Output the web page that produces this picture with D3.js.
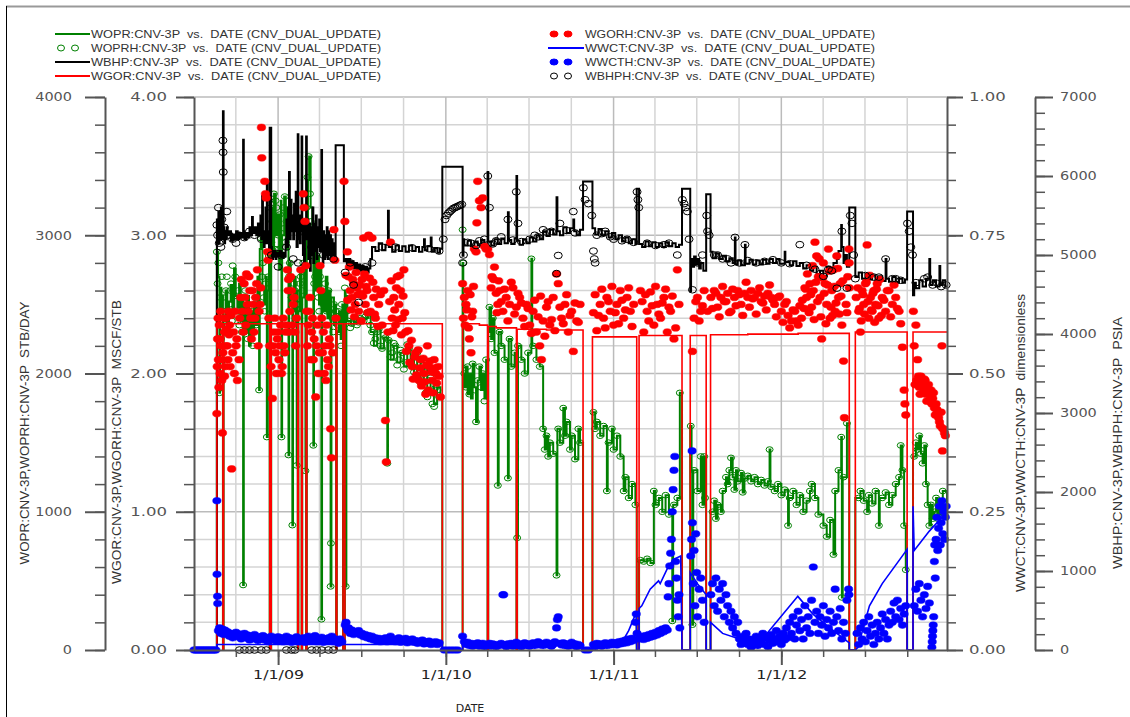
<!DOCTYPE html>
<html>
<head>
<meta charset="utf-8">
<script src="https://cdnjs.cloudflare.com/ajax/libs/d3/7.8.5/d3.min.js"></script>
<style>
  body { margin: 0; background: #fff; }
  svg { display: block; }
  .legend text { font-family: "Liberation Sans", Arial, sans-serif; font-size: 11px; fill: #333; white-space: pre; }
  .title { font-family: "Liberation Sans Narrow", "Liberation Sans", sans-serif; font-size: 12px; fill: #333; white-space: pre; }
</style>
</head>
<body>
<svg id="chart" width="1130" height="717"></svg>
<script>
// time is kept as decimal years
var woprLine = [[2008.5,0],[2008.636,2880],[2008.643,2700],[2008.651,1860],[2008.655,2620],[2008.663,2450],[2008.668,2560],[2008.672,0],[2008.676,2380],[2008.688,2600],[2008.698,2300],[2008.708,2520],[2008.718,2640],[2008.728,2420],[2008.738,2760],[2008.748,2560],[2008.758,2480],[2008.768,2650],[2008.778,2380],[2008.788,2550],[2008.792,470],[2008.796,2500],[2008.808,2300],[2008.817,2560],[2008.827,2200],[2008.837,2450],[2008.847,2280],[2008.857,2500],[2008.867,2350],[2008.877,2700],[2008.887,1880],[2008.891,2900],[2008.897,2980],[2008.907,2620],[2008.917,2500],[2008.927,2700],[2008.933,1540],[2008.937,2600],[2008.946,2850],[2008.950,0],[2008.959,3200],[2008.966,2900],[2008.976,3300],[2008.986,3000],[2008.996,3150],[2009.006,2750],[2009.016,3250],[2009.020,1540],[2009.024,3000],[2009.036,3280],[2009.046,2900],[2009.056,3200],[2009.062,1410],[2009.066,2800],[2009.075,2500],[2009.085,903],[2009.089,2450],[2009.095,2700],[2009.105,2350],[2009.111,1335],[2009.114,2600],[2009.117,0],[2009.121,2450],[2009.13,2750],[2009.140,0],[2009.144,2550],[2009.155,2900],[2009.163,1296],[2009.167,0],[2009.171,3100],[2009.178,3400],[2009.185,3570],[2009.194,3200],[2009.204,2900],[2009.210,1480],[2009.214,3000],[2009.224,2600],[2009.234,2850],[2009.244,2500],[2009.254,2750],[2009.258,222],[2009.262,2600],[2009.274,2450],[2009.284,2700],[2009.294,2400],[2009.304,2600],[2009.313,460],[2009.318,2550],[2009.333,2350],[2009.340,2500],[2009.346,0],[2009.350,2300],[2009.363,2450],[2009.373,2250],[2009.383,2500],[2009.387,0],[2009.398,2600],[2009.403,460],[2009.407,2560],[2009.413,2380],[2009.433,2360],[2009.452,2400],[2009.472,2370],[2009.492,2390],[2009.512,2400],[2009.532,2420],[2009.552,2300],[2009.571,2200],[2009.591,2320],[2009.611,2180],[2009.631,2260],[2009.651,1350],[2009.655,2240],[2009.671,2100],[2009.690,2200],[2009.710,2080],[2009.730,2150],[2009.750,2050],[2009.770,2200],[2009.790,2100],[2009.810,2000],[2009.829,2120],[2009.849,1950],[2009.869,2040],[2009.889,1850],[2009.909,1950],[2009.929,1780],[2009.948,1900],[2009.968,1820],[2009.979,0],
  [2010.100,2800],[2010.104,2000],[2010.11,1900],[2010.12,2050],[2010.13,1850],[2010.14,2000],[2010.15,1820],[2010.16,2070],[2010.17,1900],[2010.18,1650],[2010.19,1950],[2010.2,2050],[2010.21,1880],[2010.22,2000],[2010.23,1820],[2010.24,2100],[2010.249,0],[2010.253,2300],[2010.26,2480],[2010.27,2250],[2010.28,2400],[2010.29,2150],[2010.31,1190],[2010.315,2300],[2010.33,2200],[2010.35,2100],[2010.37,1243],[2010.375,2250],[2010.39,2050],[2010.41,2150],[2010.421,0],[2010.425,811],[2010.43,2200],[2010.45,2100],[2010.47,2000],[2010.49,2150],[2010.51,2830],[2010.515,2200],[2010.54,2100],[2010.56,2050],[2010.58,1600],[2010.59,1450],[2010.6,1550],[2010.61,1400],[2010.62,1500],[2010.64,1420],[2010.66,540],[2010.665,1600],[2010.68,1500],[2010.7,1750],[2010.71,1550],[2010.72,1650],[2010.74,1450],[2010.75,1550],[2010.77,1380],[2010.79,1600],[2010.8,1500],[2010.818,0],[2010.874,1720],[2010.89,1600],[2010.9,1650],[2010.92,1550],[2010.94,1620],[2010.96,1150],[2010.965,1500],[2010.99,1600],[2011.0,1450],[2011.02,1550],[2011.04,1400],[2011.06,1150],[2011.07,1250],[2011.09,1100],[2011.11,1200],[2011.13,1050],[2011.138,0],[2011.152,650],[2011.18,640],[2011.2,660],[2011.22,630],[2011.24,1150],[2011.25,1050],[2011.27,1100],[2011.29,1000],[2011.31,1120],[2011.33,980],[2011.35,210],[2011.355,1050],[2011.38,1100],[2011.395,1860],[2011.408,0],[2011.457,1620],[2011.465,1300],[2011.47,183],[2011.475,1300],[2011.5,1150],[2011.52,1400],[2011.53,1050],[2011.54,1400],[2011.552,0],[2011.578,1000],[2011.6,1080],[2011.61,950],[2011.62,1050],[2011.64,1000],[2011.65,1150],[2011.67,1250],[2011.68,1200],[2011.69,1300],[2011.7,1390],[2011.71,1250],[2011.72,1160],[2011.73,1300],[2011.74,1220],[2011.76,1280],[2011.77,1140],[2011.78,1240],[2011.8,1260],[2011.82,1220],[2011.84,1250],[2011.86,1200],[2011.88,1230],[2011.9,1190],[2011.92,1220],[2011.93,1450],[2011.935,1180],[2011.96,1150],[2011.98,1200],[2012.0,1120],[2012.02,1160],[2012.04,900],[2012.045,1100],[2012.07,1150],[2012.09,1050],[2012.11,1120],[2012.13,1000],[2012.15,1080],[2012.17,1150],[2012.18,1200],[2012.2,1100],[2012.22,980],[2012.25,900],[2012.27,820],[2012.29,940],[2012.31,690],[2012.32,1150],[2012.34,1300],[2012.356,1540],[2012.36,380],[2012.365,1250],[2012.39,1640],[2012.404,0],[2012.440,1100],[2012.47,1150],[2012.49,1080],[2012.51,1000],[2012.52,1120],[2012.54,1060],[2012.56,1150],[2012.58,900],[2012.585,1100],[2012.62,1140],[2012.64,1050],[2012.66,1120],[2012.68,1200],[2012.7,1250],[2012.71,1480],[2012.72,1300],[2012.73,900],[2012.74,580],[2012.748,0],[2012.783,1400],[2012.8,1500],[2012.81,1450],[2012.82,1550],[2012.83,1420],[2012.84,1350],[2012.85,1480],[2012.86,1200],[2012.87,1050],[2012.88,900],[2012.89,1050],[2012.9,950],[2012.91,1000],[2012.92,1100],[2012.93,950],[2012.94,1050],[2012.95,1000],[2012.96,1150],[2012.985,980]];

var woprHist = [[2008.636,2880],[2008.64,2650],[2008.645,2800],[2008.651,1860],[2008.655,2550],[2008.66,2250],[2008.665,2700],[2008.67,2095],[2008.68,2450],[2008.69,2600],[2008.7,2350],[2008.71,2500],[2008.72,2650],[2008.73,2780],[2008.74,2560],[2008.75,2420],[2008.76,2600],[2008.77,2350],[2008.78,2500],[2008.792,470],[2008.80,2300],[2008.81,2550],[2008.82,2250],[2008.84,2450],[2008.85,2200],[2008.86,2500],[2008.87,2350],[2008.887,1880],[2008.897,2980],[2008.905,2700],[2008.915,2550],[2008.925,2650],[2008.933,1540],[2008.945,2850],[2008.955,3200],[2008.965,3100],[2008.975,3300],[2008.985,3250],[2008.995,3050],[2009.005,2900],[2009.02,1540],[2009.03,3200],[2009.04,3280],[2009.05,3100],[2009.062,1410],[2009.07,2800],[2009.085,903],[2009.095,2650],[2009.105,2400],[2009.111,1335],[2009.125,2500],[2009.135,2700],[2009.145,2600],[2009.163,1296],[2009.175,3420],[2009.182,3570],[2009.19,3300],[2009.2,3000],[2009.21,1480],[2009.22,2700],[2009.23,2850],[2009.24,2550],[2009.25,2700],[2009.258,222],[2009.27,2500],[2009.28,2650],[2009.29,2450],[2009.3,2600],[2009.313,460],[2009.315,772],[2009.323,2400],[2009.333,2500],[2009.355,2350],[2009.36,2450],[2009.37,2300],[2009.38,2500],[2009.398,2620],[2009.403,460],[2009.41,2450],[2009.42,2380],[2009.44,2360],[2009.46,2400],[2009.48,2370],[2009.5,2390],[2009.52,2410],[2009.54,2420],[2009.56,2300],[2009.58,2250],[2009.6,2320],[2009.62,2180],[2009.64,2260],[2009.651,1350],[2009.66,2240],[2009.68,2150],[2009.7,2200],[2009.72,2100],[2009.74,2150],[2009.76,2080],[2009.78,2180],[2009.8,2050],[2009.82,2120],[2009.84,1980],[2009.86,2040],[2009.88,1860],[2009.9,1950],[2009.92,1780],[2009.94,1900],[2009.96,1830],
  [2008.648,2400],[2008.675,2550],[2008.685,2300],[2008.695,2700],[2008.705,2450],[2008.715,2600],[2008.725,2380],[2008.745,2700],[2008.765,2450],[2008.785,2300],[2008.805,2600],[2008.825,2400],[2008.845,2300],[2008.865,2550],[2008.88,2650],[2008.91,2800],[2008.92,2450],[2008.94,2700],[2008.96,2950],[2008.97,3150],[2008.98,2900],[2008.99,3200],[2009.0,3000],[2009.01,3150],[2009.025,2850],[2009.035,3050],[2009.045,2950],[2009.055,3150],[2009.065,2700],[2009.08,2550],[2009.1,2600],[2009.115,2500],[2009.13,2650],[2009.15,2800],[2009.17,3200],[2009.195,3100],[2009.205,2850],[2009.215,2650],[2009.235,2750],[2009.245,2450],[2009.265,2550],[2009.285,2350],[2009.295,2550],[2009.305,2450],[2009.33,2300],[2009.345,2450],[2009.365,2400],[2009.375,2200],[2009.39,2400],[2009.43,2330],[2009.45,2380],[2009.47,2350],[2009.49,2400],[2009.51,2380],[2009.53,2440],[2009.55,2350],[2009.57,2220],[2009.59,2300],[2009.61,2200],[2009.63,2280],[2009.67,2120],[2009.69,2220],[2009.71,2060],[2009.73,2170],[2009.75,2030],[2009.77,2210],[2009.79,2080],[2009.81,2010],[2009.83,2150],[2009.85,1930],[2009.87,2060],[2009.89,1830],[2009.91,1970],[2009.93,1760],[2009.95,1880],
  [2010.1,3040],[2010.105,2800],[2010.11,2000],[2010.12,1900],[2010.13,2050],[2010.14,1850],[2010.15,1950],[2010.16,2070],[2010.17,1880],[2010.18,1650],[2010.19,1950],[2010.2,2050],[2010.21,1900],[2010.22,2000],[2010.23,1800],[2010.24,2100],[2010.26,2480],[2010.27,2250],[2010.28,2400],[2010.29,2150],[2010.31,1190],[2010.32,2300],[2010.33,2200],[2010.35,2100],[2010.37,1243],[2010.38,2250],[2010.39,2050],[2010.41,2150],[2010.425,811],[2010.43,2200],[2010.45,2100],[2010.47,2000],[2010.49,2150],[2010.51,2830],[2010.52,2200],[2010.54,2100],[2010.56,2050],[2010.58,1600],[2010.59,1450],[2010.6,1550],[2010.61,1400],[2010.62,1500],[2010.64,1420],[2010.66,540],[2010.67,1600],[2010.68,1500],[2010.7,1750],[2010.71,1550],[2010.72,1650],[2010.74,1450],[2010.75,1550],[2010.77,1380],[2010.79,1600],[2010.8,1500],[2010.88,1720],[2010.89,1600],[2010.9,1650],[2010.92,1550],[2010.94,1620],[2010.96,1150],[2010.97,1500],[2010.99,1600],[2011.0,1450],[2011.02,1550],[2011.04,1400],[2011.06,1150],[2011.07,1250],[2011.09,1100],[2011.11,1200],[2011.13,1050],[2011.16,650],[2011.18,640],[2011.2,660],[2011.22,630],[2011.24,1150],[2011.25,1050],[2011.27,1100],[2011.29,1000],[2011.31,1120],[2011.33,980],[2011.35,210],[2011.36,1050],[2011.38,1100],[2011.395,1860],[2011.46,1620],[2011.47,183],[2011.48,1300],[2011.5,1150],[2011.52,1400],[2011.53,1050],
  [2011.54,1400],[2011.545,1100],[2011.59,1000],[2011.6,1080],[2011.61,950],[2011.62,1050],[2011.64,1000],[2011.65,1150],[2011.67,1250],[2011.68,1200],[2011.69,1300],[2011.7,1390],[2011.71,1250],[2011.72,1160],[2011.73,1300],[2011.74,1220],[2011.76,1280],[2011.77,1140],[2011.78,1240],[2011.8,1260],[2011.82,1220],[2011.84,1250],[2011.86,1200],[2011.88,1230],[2011.9,1190],[2011.92,1220],[2011.93,1450],[2011.94,1180],[2011.96,1150],[2011.98,1200],[2012.0,1120],[2012.02,1160],[2012.04,900],[2012.05,1100],[2012.07,1150],[2012.09,1050],[2012.11,1120],[2012.13,1000],[2012.15,1080],[2012.17,1150],[2012.18,1200],[2012.2,1100],[2012.22,980],[2012.25,900],[2012.27,820],[2012.29,940],[2012.31,690],[2012.32,1150],[2012.34,1300],[2012.356,1540],[2012.36,380],[2012.37,1250],[2012.39,1640],[2012.46,1100],[2012.47,1150],[2012.49,1080],[2012.51,1000],[2012.52,1120],[2012.54,1060],[2012.56,1150],[2012.58,900],[2012.6,1100],[2012.62,1140],[2012.64,1050],[2012.66,1120],[2012.68,1200],[2012.7,1250],[2012.71,1480],[2012.72,1300],[2012.73,900],[2012.74,580],[2012.79,1400],[2012.8,1500],[2012.81,1450],[2012.82,1550],[2012.83,1420],[2012.84,1350],[2012.85,1480],[2012.86,1200],[2012.87,1050],[2012.88,900],[2012.89,1050],[2012.9,950],[2012.91,1000],[2012.92,1100],[2012.93,950],[2012.94,1050],[2012.95,1000],[2012.96,1150],[2012.97,980]];

var wbhpLine = [[2008.5,0],[2008.636,5450],[2008.64,5200],[2008.645,5550],[2008.648,5150],[2008.652,5500],[2008.656,5250],[2008.66,5600],[2008.664,5200],[2008.668,5400],[2008.672,6820],[2008.676,5350],[2008.68,5150],[2008.685,5300],[2008.69,5200],[2008.695,5350],[2008.70,5250],[2008.71,5300],[2008.72,5180],[2008.73,5260],[2008.74,5200],[2008.75,5300],[2008.76,5200],[2008.77,5280],[2008.78,5220],[2008.792,6460],[2008.796,5300],[2008.80,5200],[2008.81,5280],[2008.82,5220],[2008.83,5350],[2008.84,5250],[2008.845,5480],[2008.85,5280],[2008.86,5350],[2008.87,5250],[2008.88,5400],[2008.885,5250],[2008.895,5500],[2008.90,5200],[2008.905,5750],[2008.91,5300],[2008.915,5100],[2008.92,5250],[2008.925,5600],[2008.93,5150],[2008.933,5910],[2008.937,5150],[2008.942,5300],[2008.946,5050],[2008.950,6610],[2008.959,5100],[2008.963,4950],[2008.97,5050],[2008.975,4980],[2008.98,5050],[2008.985,4950],[2008.99,5030],[2009.0,4980],[2009.01,5050],[2009.02,4970],[2009.03,5030],[2009.04,4980],[2009.045,5200],[2009.05,5450],[2009.055,5100],[2009.06,5600],[2009.065,6050],[2009.07,5200],[2009.075,5700],[2009.08,5300],[2009.085,5500],[2009.09,5200],[2009.095,5650],[2009.10,5300],[2009.105,5800],[2009.11,5100],[2009.117,6530],[2009.121,5200],[2009.125,5500],[2009.13,5150],[2009.135,5400],[2009.140,6500],[2009.144,5300],[2009.148,5000],[2009.152,5400],[2009.155,4900],[2009.16,5250],[2009.167,6500],[2009.171,5200],[2009.175,5450],[2009.18,4950],[2009.185,5400],[2009.19,4800],[2009.195,5350],[2009.20,5000],[2009.205,5600],[2009.21,4900],[2009.215,5400],[2009.22,5050],[2009.225,5500],[2009.23,4950],[2009.235,5350],[2009.24,5100],[2009.245,5450],[2009.25,5050],[2009.258,6330],[2009.262,5200],[2009.266,4900],[2009.27,5300],[2009.275,4950],[2009.28,5250],[2009.285,5000],[2009.29,5350],[2009.295,4950],[2009.30,5300],[2009.305,5000],[2009.31,5250],[2009.315,4950],[2009.32,5200],[2009.325,5000],[2009.33,5150],[2009.335,4950],[2009.343,6390],[2009.392,4920],[2009.40,4950],[2009.41,4880],[2009.42,4950],[2009.43,4850],[2009.44,4920],[2009.45,4830],[2009.46,4900],[2009.47,4820],[2009.48,4880],[2009.49,4800],[2009.50,4860],[2009.51,4790],[2009.52,4850],[2009.53,4780],[2009.54,4830],[2009.55,4950],[2009.56,5100],[2009.58,5050],[2009.60,5150],[2009.62,5060],[2009.64,5130],[2009.655,5560],[2009.66,5100],[2009.68,5040],[2009.70,5120],[2009.72,5050],[2009.74,5110],[2009.76,5040],[2009.78,5120],[2009.80,5050],[2009.82,5100],[2009.84,5040],[2009.86,5100],[2009.87,5200],[2009.875,5060],[2009.89,5110],[2009.91,5220],[2009.915,5040],[2009.93,5090],[2009.95,5030],[2009.965,5080],[2009.979,6116],
  [2010.100,4990],[2010.105,5200],[2010.11,5120],[2010.13,5180],[2010.15,5110],[2010.17,5170],[2010.19,5120],[2010.21,5190],[2010.23,5130],[2010.249,6050],[2010.253,5170],[2010.27,5120],[2010.29,5200],[2010.31,5140],[2010.33,5210],[2010.35,5150],[2010.37,5540],[2010.375,5190],[2010.39,5140],[2010.41,5210],[2010.421,6000],[2010.425,5180],[2010.44,5130],[2010.46,5200],[2010.48,5150],[2010.50,5220],[2010.52,5170],[2010.54,5250],[2010.56,5200],[2010.58,5300],[2010.60,5240],[2010.62,5320],[2010.64,5260],[2010.66,5730],[2010.665,5300],[2010.68,5250],[2010.70,5350],[2010.72,5280],[2010.74,5340],[2010.76,5450],[2010.765,5300],[2010.78,5250],[2010.80,5320],[2010.818,5930],[2010.874,5340],[2010.89,5260],[2010.91,5330],[2010.93,5250],[2010.95,5300],[2010.97,5220],[2010.99,5280],[2011.01,5200],[2011.03,5250],[2011.05,5170],[2011.07,5220],[2011.09,5150],[2011.11,5200],[2011.13,5140],[2011.138,5840],[2011.152,5140],[2011.17,5100],[2011.19,5170],[2011.21,5110],[2011.23,5160],[2011.25,5100],[2011.27,5150],[2011.29,5100],[2011.31,5160],[2011.33,5110],[2011.35,5150],[2011.37,5100],[2011.39,5130],[2011.408,5840],[2011.457,4540],[2011.462,4950],[2011.47,4850],[2011.48,4980],[2011.49,4880],[2011.50,4950],[2011.51,4830],[2011.52,4900],[2011.535,4800],[2011.552,5770],[2011.578,5040],[2011.59,4960],[2011.61,5020],[2011.63,4950],[2011.65,4990],[2011.67,4920],[2011.69,4960],[2011.71,4900],[2011.723,5220],[2011.727,4880],[2011.74,4930],[2011.76,4870],[2011.783,5130],[2011.787,4890],[2011.81,4940],[2011.83,4880],[2011.85,4930],[2011.87,4880],[2011.89,4940],[2011.91,4890],[2011.93,4950],[2011.95,4900],[2011.97,4950],[2011.99,4890],[2012.02,5040],[2012.024,4910],[2012.05,4870],[2012.07,4920],[2012.09,4860],[2012.11,4900],[2012.13,4830],[2012.15,4870],[2012.17,4800],[2012.19,4850],[2012.21,4760],[2012.23,4800],[2012.25,4730],[2012.27,4850],[2012.29,4780],[2012.31,4900],[2012.33,4950],[2012.34,5050],[2012.356,5380],[2012.36,5100],[2012.37,4900],[2012.38,5000],[2012.39,4850],[2012.404,5600],[2012.440,4720],[2012.46,4780],[2012.48,4700],[2012.50,4760],[2012.52,4690],[2012.54,4740],[2012.56,4680],[2012.58,4730],[2012.60,4670],[2012.62,4950],[2012.625,4700],[2012.64,4660],[2012.66,4720],[2012.68,4650],[2012.70,4700],[2012.72,4650],[2012.735,4690],[2012.748,5550],[2012.783,4490],[2012.79,4650],[2012.80,4580],[2012.82,4680],[2012.84,4600],[2012.86,4700],[2012.88,4950],[2012.885,4620],[2012.90,4680],[2012.92,4600],[2012.94,4860],[2012.945,4620],[2012.96,4680],[2012.975,4600],[2012.985,4610]];

var wbhpHist = [[2008.77,0],[2008.8,0],[2008.83,0],[2008.86,0],[2008.9,0],[2008.93,0],[2009.05,0],[2009.08,0],[2009.1,0],[2009.2,0],[2009.23,0],[2009.26,0],[2009.3,0],[2009.33,0],
  [2008.636,5380],[2008.64,5250],[2008.645,5600],[2008.65,5150],[2008.655,5300],[2008.66,5100],[2008.665,5450],[2008.672,6450],[2008.673,6300],[2008.674,6050],[2008.68,5350],[2008.695,5550],[2008.71,5250],[2008.73,5200],[2008.75,5150],[2008.77,5250],[2008.80,5220],[2008.83,5300],[2008.86,5250],[2008.9,5200],[2008.96,5000],[2008.99,5020],[2009.0,4850],[2009.02,4990],[2009.05,5100],[2009.09,4950],[2009.12,4900],[2009.15,5300],[2009.2,5100],[2009.23,5250],[2009.27,5000],[2009.3,5150],[2009.33,4950],[2009.40,4780],[2009.43,4900],[2009.45,4620],[2009.48,4400],[2009.52,4850],[2009.56,4900],[2009.62,5100],[2009.7,5100],[2009.8,5090],[2009.9,5080],[2009.96,5050],
  [2009.985,5200],[2009.995,5450],[2010.005,5500],[2010.015,5530],[2010.025,5550],[2010.035,5570],[2010.045,5590],[2010.055,5600],[2010.065,5610],[2010.075,5620],[2010.085,5630],[2010.095,5640],
  [2010.1,4900],[2010.105,5000],[2010.15,5150],[2010.2,5180],[2010.25,6000],[2010.26,5600],[2010.3,5180],[2010.37,5450],[2010.4,5190],[2010.42,5800],[2010.43,5400],[2010.5,5200],[2010.55,5230],[2010.6,5290],[2010.66,4765],[2010.67,4994],[2010.68,5400],[2010.76,5550],[2010.77,5280],[2010.82,5850],[2010.83,5700],[2010.85,5650],[2010.87,5500],[2010.88,5050],[2010.885,4950],[2010.89,4900],[2010.9,5250],[2010.95,5300],[2011.0,5200],[2011.05,5180],[2011.14,5800],[2011.145,5700],[2011.15,5600],[2011.2,5150],[2011.3,5130],[2011.38,5000],[2011.41,5700],[2011.42,5650],[2011.43,5600],[2011.44,5550],[2011.45,5200],[2011.47,4560],[2011.5,4900],[2011.53,5000],[2011.555,5500],[2011.56,5300],[2011.57,5250],[2011.6,5000],[2011.65,4950],[2011.70,4900],[2011.724,5223],[2011.75,4900],[2011.783,5130],[2011.85,4900],[2011.9,4920],[2012.0,4900],[2012.11,5131],[2012.2,4820],[2012.25,4730],[2012.3,4800],[2012.33,4580],[2012.36,5300],[2012.39,4580],[2012.41,5500],[2012.42,5400],[2012.43,5000],[2012.44,4700],[2012.55,4720],[2012.62,4950],[2012.68,4700],[2012.75,5400],[2012.76,5300],[2012.77,5100],[2012.78,5000],[2012.8,4650],[2012.85,4700],[2012.9,4620],[2012.95,4600],[2012.98,4620],
  [2010.13,5160],[2010.18,5120],[2010.23,5200],[2010.28,5140],[2010.33,5230],[2010.45,5170],[2010.53,5250],[2010.58,5320],[2010.63,5300],[2010.72,5310],[2010.93,5270],[2010.98,5230],[2011.08,5200],[2011.12,5160],[2011.25,5120],[2011.33,5150],[2011.62,5000],[2011.68,4950],[2011.8,4930],[2011.95,4940],[2012.05,4890],[2012.15,4870],[2012.28,4820],[2012.5,4740],[2012.58,4720],[2012.66,4700],[2012.71,4680],[2012.87,4720],[2012.93,4640]];

var wgorLine = [[2008.5,0],[2008.636,2.36],[2008.672,0],[2008.676,2.36],[2008.950,0],[2008.959,2.36],[2009.117,0],[2009.121,2.36],[2009.140,0],[2009.144,2.36],[2009.167,0],[2009.171,2.36],[2009.346,0],[2009.350,2.36],[2009.387,0],[2009.398,2.36],[2009.979,0],[2010.100,2.36],[2010.20,2.35],[2010.249,0],[2010.253,2.34],[2010.30,2.33],[2010.421,0],[2010.425,2.32],[2010.60,2.315],[2010.818,0],[2010.874,2.265],[2011.138,0],[2011.152,2.275],[2011.408,0],[2011.457,2.275],[2011.552,0],[2011.578,2.28],[2011.8,2.285],[2012.1,2.29],[2012.404,0],[2012.440,2.30],[2012.748,0],[2012.783,2.30],[2012.985,2.30]];

var wgorHist = [[2008.636,1.71],[2008.64,2.25],[2008.645,2.1],[2008.65,2.35],[2008.655,2.0],[2008.66,2.2],[2008.665,1.95],[2008.669,1.57],[2008.672,2.15],[2008.68,2.3],[2008.685,2.05],[2008.69,2.4],[2008.698,2.2],[2008.705,2.45],[2008.712,2.35],[2008.724,1.31],[2008.73,2.15],[2008.74,2.0],[2008.75,2.2],[2008.758,1.95],[2008.768,2.1],[2008.778,2.55],[2008.788,2.45],[2008.798,2.65],[2008.808,2.35],[2008.817,2.5],[2008.827,2.7],[2008.837,2.4],[2008.847,2.6],[2008.857,2.3],[2008.867,2.55],[2008.877,2.75],[2008.887,2.45],[2008.897,2.62],[2008.901,3.78],[2008.903,3.56],[2008.921,3.39],[2008.925,3.3],[2008.929,3.27],[2008.937,2.88],[2008.94,2.82],[2008.945,2.4],[2008.95,2.2],[2008.958,2.05],[2008.966,1.82],[2008.975,2.3],[2008.985,2.15],[2008.995,2.25],[2009.005,2.1],[2009.015,2.35],[2009.025,2.05],[2009.035,2.2],[2009.045,2.3],[2009.055,2.75],[2009.062,2.68],[2009.07,2.45],[2009.08,2.6],[2009.09,2.5],[2009.1,2.3],[2009.11,2.4],[2009.135,2.75],[2009.15,3.3],[2009.155,3.2],[2009.16,3.1],[2009.165,2.78],[2009.17,2.45],[2009.18,2.35],[2009.19,2.55],[2009.2,2.3],[2009.21,2.1],[2009.224,1.83],[2009.23,2.2],[2009.24,2.0],[2009.25,2.78],[2009.255,2.6],[2009.265,2.15],[2009.275,2.0],[2009.285,1.95],[2009.295,2.1],[2009.305,2.25],[2009.313,1.6],[2009.318,1.39],[2009.325,2.15],[2009.333,3.04],[2009.338,2.82],[2009.345,2.4],[2009.393,3.39],[2009.398,3.1],[2009.413,2.88],[2009.42,2.7],[2009.43,2.6],[2009.44,2.55],[2009.45,2.65],[2009.46,2.5],[2009.47,2.62],[2009.48,2.45],[2009.49,2.58],[2009.5,2.68],[2009.51,2.98],[2009.52,2.5],[2009.53,2.6],[2009.54,3.0],[2009.55,2.45],[2009.56,2.98],[2009.57,2.55],[2009.58,2.4],[2009.6,2.5],[2009.62,2.35],[2009.63,2.6],[2009.64,1.66],[2009.645,1.36],[2009.655,2.3],[2009.67,2.95],[2009.68,2.4],[2009.69,2.55],[2009.7,2.35],[2009.71,2.7],[2009.72,2.5],[2009.73,2.6],[2009.74,2.4],[2009.75,2.75],[2009.76,2.3],[2009.78,2.2],[2009.8,2.05],[2009.82,2.15],[2009.84,1.95],[2009.85,2.1],[2009.87,2.0],[2009.88,1.85],[2009.89,2.2],[2009.9,2.05],[2009.92,1.95],[2009.93,2.1],[2009.94,2.0],[2009.955,2.05],[2009.968,1.83],
  [2008.638,2.05],[2008.643,2.4],[2008.648,1.9],[2008.653,2.25],[2008.658,2.45],[2008.663,2.1],[2008.676,2.4],[2008.682,1.98],[2008.688,2.2],[2008.694,2.32],[2008.702,2.1],[2008.708,2.28],[2008.715,2.05],[2008.72,2.42],[2008.735,2.3],[2008.745,2.45],[2008.755,2.25],[2008.772,2.4],[2008.782,2.68],[2008.793,2.3],[2008.803,2.55],[2008.812,2.72],[2008.822,2.45],[2008.832,2.6],[2008.842,2.25],[2008.852,2.5],[2008.862,2.4],[2008.872,2.65],[2008.882,2.2],[2008.892,2.5],[2008.97,2.2],[2008.98,2.4],[2008.99,2.0],[2009.0,2.3],[2009.01,2.2],[2009.02,2.0],[2009.03,2.4],[2009.04,2.15],[2009.05,2.35],[2009.06,2.6],[2009.065,2.3],[2009.075,2.7],[2009.085,2.35],[2009.095,2.55],[2009.105,2.2],[2009.175,2.2],[2009.185,2.45],[2009.195,2.1],[2009.205,2.4],[2009.215,2.25],[2009.235,2.35],[2009.245,2.15],[2009.26,2.4],[2009.27,2.3],[2009.28,2.2],[2009.29,2.35],[2009.3,2.05],[2009.31,2.2],
  [2009.405,2.71],[2009.415,2.53],[2009.425,2.77],[2009.435,2.46],[2009.445,2.68],[2009.455,2.41],[2009.465,2.73],[2009.475,2.57],[2009.485,2.64],[2009.495,2.38],[2009.505,2.56],[2009.515,2.72],[2009.525,2.63],[2009.535,2.44],[2009.545,2.69],[2009.565,2.66],[2009.575,2.43],[2009.585,2.61],[2009.595,2.34],[2009.61,2.57],[2009.665,2.52],[2009.675,2.67],[2009.685,2.31],[2009.695,2.46],[2009.705,2.62],[2009.715,2.39],[2009.725,2.71],[2009.735,2.28],[2009.745,2.56],[2009.755,2.44],[2009.765,2.16],[2009.775,2.31],[2009.785,2.08],[2009.795,2.24],[2009.805,1.96],[2009.815,2.12],[2009.825,1.99],[2009.835,2.17],[2009.845,2.04],[2009.855,1.91],[2009.865,2.11],[2009.875,1.94],[2009.885,2.06],[2009.895,1.88],[2009.905,2.09],[2009.915,2.01],[2009.925,1.86],[2009.935,2.04],[2009.945,1.93],[2009.96,1.98],
  [2010.1,2.65],[2010.105,2.4],[2010.11,2.55],[2010.115,2.35],[2010.12,2.5],[2010.13,2.6],[2010.14,2.25],[2010.15,2.15],[2010.16,2.45],[2010.17,2.9],[2010.18,2.88],[2010.185,3.09],[2010.19,3.39],[2010.2,3.25],[2010.21,3.2],[2010.22,3.27],[2010.23,2.92],[2010.24,2.9],[2010.25,2.9],[2010.26,2.86],[2010.275,2.7],[2010.285,2.68],[2010.3,2.58],[2010.31,2.5],[2010.32,2.6],[2010.34,2.45],[2010.36,2.55],[2010.38,2.5],[2010.40,2.62],[2010.42,2.48],[2010.44,2.55],[2010.46,2.4],[2010.48,2.5],[2010.5,2.35],[2010.52,2.45],[2010.54,2.3],[2010.56,2.2],[2010.57,2.1],[2010.58,2.38],[2010.6,2.48],[2010.62,2.35],[2010.64,2.55],[2010.66,2.72],[2010.67,2.65],[2010.69,2.4],[2010.71,2.5],[2010.73,2.3],[2010.75,2.45],[2010.76,2.16],[2010.78,2.38],[2010.8,2.5],[2010.88,2.44],[2010.9,2.31],[2010.92,2.5],[2010.94,2.4],[2010.96,2.55],[2010.98,2.45],[2011.0,2.35],[2011.02,2.5],[2011.04,2.6],[2011.06,2.4],[2011.08,2.55],[2011.1,2.45],[2011.12,2.5],[2011.16,2.6],[2011.18,2.3],[2011.2,2.45],[2011.22,2.59],[2011.24,2.35],[2011.26,2.5],[2011.28,2.4],[2011.3,2.55],[2011.32,2.3],[2011.34,2.45],[2011.36,2.25],[2011.38,2.75],[2011.39,2.5],[2011.47,2.16],[2011.48,2.4],[2011.5,2.55],[2011.52,2.45],[2011.54,2.6],
  [2010.125,2.46],[2010.135,2.33],[2010.145,2.57],[2010.155,2.41],[2010.165,2.63],[2010.27,2.62],[2010.29,2.77],[2010.305,2.44],[2010.315,2.67],[2010.33,2.52],[2010.35,2.61],[2010.37,2.38],[2010.39,2.66],[2010.41,2.43],[2010.43,2.58],[2010.45,2.51],[2010.47,2.34],[2010.49,2.47],[2010.51,2.29],[2010.53,2.53],[2010.55,2.41],[2010.565,2.56],[2010.59,2.27],[2010.61,2.52],[2010.63,2.39],[2010.65,2.31],[2010.68,2.48],[2010.7,2.36],[2010.72,2.57],[2010.74,2.42],[2010.77,2.51],[2010.79,2.37],[2010.89,2.57],[2010.91,2.42],[2010.93,2.61],[2010.95,2.33],[2010.97,2.52],[2010.99,2.63],[2011.01,2.44],[2011.03,2.36],[2011.05,2.53],[2011.07,2.46],[2011.09,2.62],[2011.11,2.34],[2011.17,2.52],[2011.19,2.57],[2011.21,2.38],[2011.23,2.49],[2011.25,2.63],[2011.27,2.43],[2011.29,2.51],[2011.31,2.61],[2011.33,2.48],[2011.35,2.56],[2011.37,2.33],[2011.49,2.52],[2011.51,2.38],[2011.53,2.49],
  [2011.56,2.45],[2011.58,2.55],[2011.6,2.6],[2011.62,2.48],[2011.64,2.55],[2011.66,2.52],[2011.68,2.58],[2011.7,2.45],[2011.72,2.55],[2011.74,2.6],[2011.76,2.5],[2011.78,2.58],[2011.8,2.55],[2011.82,2.6],[2011.84,2.55],[2011.86,2.58],[2011.88,2.52],[2011.9,2.56],[2011.92,2.58],[2011.94,2.55],[2011.96,2.5],[2011.98,2.55],[2012.0,2.45],[2012.02,2.5],[2012.04,2.42],[2012.06,2.38],[2012.08,2.45],[2012.1,2.35],[2012.12,2.4],[2012.14,2.62],[2012.15,2.55],[2012.17,2.65],[2012.18,2.48],[2012.19,2.6],[2012.2,2.95],[2012.21,2.85],[2012.22,2.7],[2012.23,2.55],[2012.24,2.25],[2012.25,2.8],[2012.26,2.65],[2012.27,2.5],[2012.28,2.9],[2012.29,2.4],[2012.3,2.6],[2012.31,2.75],[2012.32,2.45],[2012.33,2.85],[2012.34,2.55],[2012.35,2.65],[2012.36,2.35],[2012.37,2.09],[2012.375,1.68],[2012.385,2.5],[2012.395,2.7],[2012.402,2.9],[2012.403,2.8],[2012.404,2.62],[2012.445,2.55],[2012.46,2.45],[2012.47,2.3],[2012.48,2.6],[2012.49,2.5],[2012.5,2.65],[2012.51,2.93],[2012.52,2.4],[2012.53,2.55],[2012.54,2.45],[2012.55,2.6],[2012.56,2.5],[2012.57,2.65],[2012.58,2.4],[2012.6,2.55],[2012.62,2.45],[2012.64,2.6],[2012.66,2.5],[2012.68,2.55],[2012.7,2.45],[2012.72,2.19],[2012.73,1.88],[2012.735,1.78],[2012.74,1.7],[2012.785,2.45],[2012.79,2.2],[2012.8,2.35],[2012.805,1.95],[2012.81,2.1],[2012.82,1.9],[2012.83,1.98],[2012.84,1.92],[2012.85,1.96],[2012.86,1.85],[2012.87,1.9],[2012.88,1.8],[2012.89,1.88],[2012.9,1.82],[2012.91,1.75],[2012.92,1.78],[2012.93,1.7],[2012.94,1.65],[2012.95,1.72],[2012.955,2.2],[2012.958,1.44],[2012.96,1.6],[2012.97,1.57],
  [2011.59,2.47],[2011.61,2.58],[2011.63,2.41],[2011.65,2.63],[2011.67,2.52],[2011.69,2.44],[2011.71,2.61],[2011.73,2.49],[2011.75,2.57],[2011.77,2.42],[2011.79,2.66],[2011.81,2.48],[2011.83,2.54],[2011.85,2.43],[2011.87,2.62],[2011.89,2.51],[2011.91,2.46],[2011.93,2.64],[2011.95,2.53],[2011.97,2.41],[2011.99,2.56],[2012.01,2.37],[2012.03,2.52],[2012.05,2.33],[2012.07,2.46],[2012.09,2.38],[2012.11,2.49],[2012.125,2.53],[2012.135,2.47],[2012.145,2.61],[2012.155,2.72],[2012.165,2.44],[2012.175,2.57],[2012.185,2.78],[2012.195,2.39],[2012.205,2.66],[2012.215,2.52],[2012.225,2.83],[2012.235,2.41],[2012.245,2.69],[2012.255,2.58],[2012.265,2.36],[2012.275,2.64],[2012.285,2.74],[2012.295,2.48],[2012.305,2.42],[2012.315,2.63],[2012.325,2.51],[2012.335,2.76],[2012.345,2.43],[2012.355,2.56],[2012.365,2.67],[2012.39,2.44],[2012.455,2.62],[2012.465,2.47],[2012.475,2.38],[2012.485,2.57],[2012.495,2.43],[2012.505,2.66],[2012.515,2.52],[2012.525,2.71],[2012.535,2.46],[2012.545,2.58],[2012.555,2.37],[2012.565,2.61],[2012.575,2.49],[2012.585,2.68],[2012.595,2.42],[2012.61,2.53],[2012.63,2.6],[2012.65,2.41],[2012.67,2.64],[2012.69,2.47],[2012.71,2.36],[2012.795,1.92],[2012.815,1.98],[2012.825,1.85],[2012.835,1.93],[2012.845,1.87],[2012.855,1.95],[2012.865,1.8],[2012.875,1.92],[2012.885,1.84],[2012.895,1.78],[2012.905,1.86],[2012.915,1.7],[2012.925,1.74],[2012.935,1.68],[2012.945,1.62],[2012.965,1.6],[2012.975,1.55]];

var wwctLine = [[2008.5,0],[2008.636,0],[2008.636,0.01],[2009.979,0.01],[2009.979,0],[2010.1,0],[2010.1,0.01],[2010.818,0.01],[2010.818,0],[2010.874,0],[2010.874,0.01],[2011.046,0.012],[2011.09,0.035],[2011.135,0.068],[2011.138,0],[2011.152,0],[2011.152,0.075],[2011.168,0.08],[2011.218,0.11],[2011.268,0.125],[2011.278,0.12],[2011.328,0.152],[2011.358,0.164],[2011.40,0.17],[2011.408,0],[2011.457,0],[2011.457,0.14],[2011.50,0.12],[2011.552,0.10],[2011.552,0],[2011.578,0],[2011.578,0.05],[2011.65,0.03],[2011.75,0.02],[2011.887,0.02],[2012.098,0.097],[2012.188,0.065],[2012.288,0.04],[2012.404,0.013],[2012.404,0],[2012.440,0],[2012.455,0.005],[2012.524,0.08],[2012.60,0.12],[2012.748,0.182],[2012.748,0],[2012.783,0],[2012.783,0.26],[2012.79,0.18],[2012.88,0.215],[2012.985,0.25]];

var wwctHist = [[2008.5,0],[2008.51,0],[2008.52,0],[2008.53,0],[2008.54,0],[2008.55,0],[2008.56,0],[2008.57,0],[2008.58,0],[2008.59,0],[2008.6,0],[2008.61,0],[2008.62,0],[2008.63,0],
  [2008.636,0.27],[2008.637,0.137],[2008.64,0.097],[2008.641,0.084],
  [2008.645,0.035],[2008.652,0.04],[2008.66,0.03],[2008.668,0.038],[2008.676,0.028],[2008.684,0.036],[2008.692,0.03],[2008.70,0.033],[2008.71,0.025],[2008.72,0.03],[2008.73,0.022],[2008.74,0.028],[2008.75,0.032],[2008.76,0.024],[2008.77,0.029],[2008.78,0.02],[2008.79,0.026],[2008.80,0.03],[2008.81,0.022],[2008.82,0.027],[2008.83,0.018],[2008.84,0.025],[2008.85,0.02],[2008.86,0.028],[2008.87,0.022],[2008.88,0.017],[2008.89,0.024],[2008.90,0.02],[2008.91,0.026],[2008.92,0.018],[2008.93,0.023],[2008.94,0.015],[2008.95,0.02],[2008.96,0.025],[2008.97,0.018],[2008.98,0.022],[2008.99,0.016],[2009.0,0.024],
  [2009.01,0.018],[2009.02,0.022],[2009.03,0.015],[2009.04,0.02],[2009.05,0.025],[2009.06,0.017],[2009.07,0.022],[2009.08,0.014],[2009.09,0.02],[2009.10,0.018],[2009.11,0.024],[2009.12,0.015],[2009.13,0.02],[2009.14,0.017],[2009.15,0.022],[2009.16,0.014],[2009.17,0.019],[2009.18,0.025],[2009.19,0.016],[2009.20,0.021],[2009.21,0.018],[2009.22,0.026],[2009.23,0.015],[2009.24,0.02],[2009.25,0.017],[2009.26,0.023],[2009.27,0.014],[2009.28,0.02],[2009.29,0.016],[2009.30,0.022],[2009.31,0.018],[2009.32,0.025],[2009.33,0.015],[2009.34,0.02],[2009.35,0.017],[2009.36,0.012],[2009.37,0.02],[2009.38,0.015],
  [2009.40,0.045],[2009.405,0.05],[2009.41,0.04],[2009.415,0.035],[2009.42,0.04],[2009.43,0.03],[2009.44,0.036],[2009.45,0.028],[2009.46,0.033],[2009.47,0.03],[2009.48,0.035],[2009.49,0.027],[2009.50,0.03],[2009.51,0.024],[2009.52,0.028],[2009.53,0.022],[2009.54,0.026],[2009.55,0.02],[2009.56,0.025],[2009.57,0.018],[2009.58,0.022],[2009.59,0.016],[2009.60,0.021],[2009.61,0.015],[2009.62,0.02],[2009.63,0.017],[2009.64,0.022],[2009.65,0.015],[2009.66,0.019],[2009.67,0.025],[2009.68,0.016],[2009.69,0.02],[2009.70,0.015],[2009.71,0.018],[2009.72,0.022],[2009.73,0.014],[2009.74,0.019],[2009.75,0.016],[2009.76,0.021],[2009.77,0.013],[2009.78,0.018],[2009.79,0.015],[2009.80,0.02],[2009.81,0.014],[2009.82,0.017],[2009.83,0.012],[2009.84,0.016],[2009.85,0.013],[2009.86,0.018],[2009.87,0.011],[2009.88,0.015],[2009.89,0.012],[2009.90,0.016],[2009.91,0.01],[2009.92,0.014],[2009.93,0.011],[2009.94,0.015],[2009.95,0.01],[2009.96,0.013],
  [2009.99,0],[2010.01,0],[2010.03,0],[2010.05,0],[2010.07,0],
  [2010.10,0.025],[2010.11,0.015],[2010.12,0.01],[2010.13,0.014],[2010.14,0.008],[2010.15,0.012],[2010.16,0.007],[2010.17,0.011],[2010.18,0.009],[2010.19,0.013],[2010.20,0.007],[2010.21,0.01],[2010.22,0.012],[2010.23,0.006],[2010.24,0.01],[2010.25,0.008],[2010.26,0.012],[2010.27,0.007],[2010.28,0.011],[2010.29,0.009],[2010.30,0.006],[2010.31,0.01],[2010.32,0.008],[2010.33,0.012],[2010.34,0.1],[2010.345,0.1],[2010.35,0.009],[2010.36,0.006],[2010.37,0.011],[2010.38,0.008],[2010.39,0.012],[2010.40,0.007],[2010.41,0.01],[2010.42,0.014],[2010.43,0.008],[2010.44,0.011],[2010.45,0.006],[2010.46,0.01],[2010.47,0.013],[2010.48,0.008],[2010.49,0.011],[2010.50,0.007],[2010.51,0.01],[2010.52,0.013],[2010.53,0.008],[2010.54,0.011],[2010.55,0.015],[2010.56,0.009],[2010.57,0.012],[2010.58,0.008],[2010.59,0.011],[2010.60,0.014],[2010.61,0.009],[2010.62,0.012],[2010.63,0.007],[2010.64,0.01],[2010.65,0.015],[2010.66,0.04],[2010.665,0.055],[2010.67,0.06],[2010.68,0.012],[2010.69,0.009],[2010.70,0.013],[2010.71,0.008],[2010.72,0.011],[2010.73,0.007],[2010.74,0.01],[2010.75,0.014],[2010.76,0.008],[2010.77,0.011],[2010.78,0.006],[2010.79,0.01],[2010.80,0.008],
  [2010.83,0],[2010.85,0],
  [2010.88,0.01],[2010.89,0.006],[2010.90,0.012],[2010.91,0.008],[2010.92,0.011],[2010.93,0.007],[2010.94,0.01],[2010.95,0.013],[2010.96,0.008],[2010.97,0.012],[2010.98,0.009],[2010.99,0.014],[2011.00,0.01],[2011.01,0.013],[2011.02,0.009],[2011.03,0.015],[2011.04,0.011],[2011.05,0.016],[2011.06,0.012],[2011.07,0.018],[2011.08,0.013],[2011.09,0.02],[2011.10,0.015],[2011.11,0.021],[2011.12,0.017],[2011.13,0.05],[2011.135,0.065],[2011.14,0.03],[2011.16,0.02],[2011.17,0.025],[2011.18,0.019],[2011.19,0.026],[2011.20,0.021],[2011.21,0.028],[2011.22,0.023],[2011.23,0.03],[2011.24,0.025],[2011.25,0.032],[2011.26,0.027],[2011.27,0.035],[2011.28,0.03],[2011.29,0.038],[2011.30,0.033],[2011.31,0.04],[2011.32,0.036],
  [2011.325,0.096],[2011.33,0.12],[2011.335,0.152],[2011.34,0.175],[2011.345,0.2],[2011.35,0.25],[2011.355,0.29],[2011.36,0.325],[2011.365,0.35],[2011.37,0.16],[2011.375,0.13],[2011.38,0.09],[2011.385,0.06],[2011.39,0.1],[2011.395,0.04],
  [2011.46,0.17],[2011.465,0.2],[2011.468,0.36],[2011.47,0.23],[2011.475,0.12],[2011.48,0.18],[2011.485,0.08],[2011.49,0.21],[2011.495,0.14],[2011.50,0.06],[2011.51,0.11],[2011.52,0.13],[2011.53,0.09],[2011.54,0.05],
  [2011.58,0.1],[2011.59,0.12],[2011.60,0.08],[2011.61,0.13],[2011.62,0.07],[2011.63,0.11],[2011.64,0.09],[2011.65,0.12],[2011.66,0.06],[2011.67,0.1],[2011.68,0.08],[2011.69,0.05],[2011.70,0.07],[2011.71,0.04],[2011.72,0.06],[2011.73,0.03],[2011.74,0.05],
  [2011.75,0.02],[2011.76,0.01],[2011.77,0.025],[2011.78,0.015],[2011.79,0.03],[2011.80,0.01],[2011.81,0.02],[2011.82,0.005],[2011.83,0.018],[2011.84,0.012],[2011.85,0.025],[2011.86,0.008],[2011.87,0.02],[2011.88,0.014],[2011.89,0.03],[2011.90,0.01],[2011.91,0.022],[2011.92,0.006],[2011.93,0.018],[2011.94,0.028],[2011.95,0.012],[2011.96,0.02],[2011.97,0.035],[2011.98,0.015],[2011.99,0.025],[2012.00,0.01],[2012.01,0.03],[2012.02,0.018],[2012.03,0.04],[2012.04,0.022],
  [2012.05,0.05],[2012.06,0.03],[2012.07,0.06],[2012.08,0.02],[2012.09,0.045],[2012.10,0.07],[2012.11,0.035],[2012.12,0.055],[2012.13,0.02],[2012.14,0.08],[2012.15,0.04],[2012.16,0.06],[2012.17,0.03],[2012.18,0.09],[2012.19,0.15],[2012.20,0.05],[2012.21,0.07],[2012.22,0.03],[2012.23,0.06],[2012.24,0.045],[2012.25,0.08],[2012.26,0.025],[2012.27,0.055],[2012.28,0.04],[2012.29,0.07],[2012.30,0.03],[2012.31,0.05],[2012.32,0.11],[2012.33,0.06],[2012.34,0.035],[2012.35,0.075],[2012.36,0.02],[2012.37,0.05],[2012.38,0.03],[2012.39,0.09],[2012.40,0.11],[2012.402,0.1],
  [2012.45,0.03],[2012.46,0.01],[2012.47,0.04],[2012.48,0.02],[2012.49,0.05],[2012.50,0.015],[2012.51,0.035],[2012.52,0.06],[2012.53,0.025],[2012.54,0.045],[2012.55,0.01],[2012.56,0.03],[2012.57,0.05],[2012.58,0.02],[2012.59,0.04],[2012.60,0.065],[2012.61,0.03],[2012.62,0.055],[2012.63,0.02],[2012.64,0.045],
  [2012.65,0.07],[2012.66,0.05],[2012.67,0.085],[2012.68,0.06],[2012.69,0.09],[2012.70,0.055],[2012.71,0.075],[2012.72,0.045],[2012.73,0.065],[2012.74,0.08],
  [2012.79,0.08],[2012.80,0.11],[2012.81,0.07],[2012.82,0.12],[2012.83,0.09],[2012.84,0.06],[2012.85,0.1],[2012.86,0.075],[2012.87,0.115],[2012.88,0.085],
  [2012.895,0.005],[2012.897,0.015],[2012.899,0.025],[2012.901,0.035],[2012.903,0.045],[2012.906,0.06],[2012.91,0.16],[2012.912,0.19],[2012.915,0.13],
  [2012.92,0.2],[2012.925,0.24],[2012.93,0.18],[2012.935,0.22],[2012.94,0.26],[2012.945,0.19],[2012.95,0.23],[2012.955,0.27],[2012.96,0.21],[2012.965,0.25],[2012.97,0.2],[2012.975,0.24],[2012.98,0.26]];

// axis ticks
var rateTicks = [0, 1000, 2000, 3000, 4000];
var gorTicks = [0, 1, 2, 3, 4];
var wctTicks = [0, 0.25, 0.5, 0.75, 1];
var bhpTicks = [0, 1000, 2000, 3000, 4000, 5000, 6000, 7000];
var yearTicks = [2009, 2010, 2011, 2012];

var legendLeft = [
  {name: "WOPR:CNV-3P  vs.  DATE (CNV_DUAL_UPDATE)", kind: "line", color: "#008000"},
  {name: "WOPRH:CNV-3P  vs.  DATE (CNV_DUAL_UPDATE)", kind: "open", color: "#008000"},
  {name: "WBHP:CNV-3P  vs.  DATE (CNV_DUAL_UPDATE)", kind: "line", color: "#000"},
  {name: "WGOR:CNV-3P  vs.  DATE (CNV_DUAL_UPDATE)", kind: "line", color: "#f00"}
];
var legendRight = [
  {name: "WGORH:CNV-3P  vs.  DATE (CNV_DUAL_UPDATE)", kind: "dot", color: "#f00"},
  {name: "WWCT:CNV-3P  vs.  DATE (CNV_DUAL_UPDATE)", kind: "line", color: "#00f"},
  {name: "WWCTH:CNV-3P  vs.  DATE (CNV_DUAL_UPDATE)", kind: "dot", color: "#00f"},
  {name: "WBHPH:CNV-3P  vs.  DATE (CNV_DUAL_UPDATE)", kind: "open", color: "#000"}
];

function toDate(t) {
  var yr = Math.floor(t);
  var a = Date.UTC(yr, 0, 1), b = Date.UTC(yr + 1, 0, 1);
  return new Date(a + (t - yr) * (b - a));
}

var svg = d3.select("#chart");
// note: "top" is taken by window.top, so plot edges get their own names
var plotL = 194, plotR = 947, plotT = 97, plotB = 650;

var x = d3.scaleUtc().domain([toDate(2008.5), toDate(2012.985)]).range([plotL, plotR]);
var yRate = d3.scaleLinear().domain([0, 4000]).range([plotB, plotT]);
var yGor = d3.scaleLinear().domain([0, 4]).range([plotB, plotT]);
var yWct = d3.scaleLinear().domain([0, 1]).range([plotB, plotT]);
var yBhp = d3.scaleLinear().domain([0, 7000]).range([plotB, plotT]);

// window frame
svg.append("line").attr("x1", 6).attr("x2", 1130).attr("y1", 6.5).attr("y2", 6.5).attr("stroke", "#999").attr("stroke-width", 2);
svg.append("line").attr("x1", 6.5).attr("x2", 6.5).attr("y1", 6).attr("y2", 717).attr("stroke", "#000");

// grid
var grid = svg.append("g");
grid.selectAll(".hg").data(d3.range(1, 21)).enter().append("line")
  .attr("x1", plotL).attr("x2", plotR)
  .attr("y1", function(d) { return yGor(d * 0.2); }).attr("y2", function(d) { return yGor(d * 0.2); })
  .attr("stroke", function(d) { return d % 5 == 0 ? "#bbb" : "#d4d4d4"; }).attr("stroke-width", 1.5);
var quarters = d3.utcMonth.every(3).range(toDate(2008.6), toDate(2012.985));
grid.selectAll(".vg").data(quarters).enter().append("line")
  .attr("x1", function(d) { return x(d); }).attr("x2", function(d) { return x(d); })
  .attr("y1", plotT).attr("y2", plotB)
  .attr("stroke", function(d) { return d.getUTCMonth() == 0 ? "#bbb" : "#d4d4d4"; }).attr("stroke-width", 1.5);

var plot = svg.append("g");

function stepLine(ys) {
  return d3.line().curve(d3.curveStepAfter)
    .x(function(d) { return x(toDate(d[0])); })
    .y(function(d) { return ys(d[1]); });
}

function drawDots(data, ys, color, filled, rx, ry) {
  plot.append("g").selectAll("ellipse").data(data).enter().append("ellipse")
    .attr("cx", function(d) { return x(toDate(d[0])); })
    .attr("cy", function(d) { return ys(d[1]); })
    .attr("rx", rx).attr("ry", ry)
    .attr("fill", filled ? color : "none")
    .attr("stroke", color).attr("stroke-width", filled ? 0.5 : 1);
}

// oil rate
plot.append("path").datum(woprLine).attr("d", stepLine(yRate))
  .attr("fill", "none").attr("stroke", "#008000").attr("stroke-width", 2);
drawDots(woprHist, yRate, "#008000", false, 3.5, 2.8);

// bottom hole pressure
plot.append("path").datum(wbhpLine).attr("d", stepLine(yBhp))
  .attr("fill", "none").attr("stroke", "#000").attr("stroke-width", 2);

// gas oil ratio
plot.append("path").datum(wgorLine).attr("d", stepLine(yGor))
  .attr("fill", "none").attr("stroke", "#f00").attr("stroke-width", 1.6);
drawDots(wgorHist, yGor, "#f00", true, 4.3, 3.4);

// water cut
plot.append("path").datum(wwctLine)
  .attr("d", d3.line().x(function(d) { return x(toDate(d[0])); }).y(function(d) { return yWct(d[1]); }))
  .attr("fill", "none").attr("stroke", "#00f").attr("stroke-width", 1.6);
drawDots(wwctHist, yWct, "#00f", true, 4.2, 3.3);

drawDots(wbhpHist, yBhp, "#000", false, 4, 3.3);

// axes
function styleAxis(g, len) {
  g.select(".domain").attr("stroke", "#555").attr("stroke-width", 2);
  g.selectAll(".tick line").attr("stroke", "#555").attr("stroke-width", 2);
  g.selectAll(".tick text")
    .style("font-family", "'DejaVu Sans', sans-serif").style("font-size", "12px").attr("fill", "#555")
    .attr("textLength", function() { return this.textContent.length * len; })
    .attr("lengthAdjust", "spacingAndGlyphs");
}

function minorAxis(axis, pos, values, size) {
  var g = svg.append("g").attr("transform", pos)
    .call(axis.tickValues(values).tickSize(size).tickSizeOuter(0).tickFormat(""));
  g.select(".domain").remove();
  g.selectAll(".tick line").attr("stroke", "#555").attr("stroke-width", 1.5);
}

minorAxis(d3.axisLeft(yRate), "translate(105,0)", d3.range(0, 4001, 200), 10);
styleAxis(svg.append("g").attr("transform", "translate(105,0)")
  .call(d3.axisLeft(yRate).tickValues(rateTicks).tickSize(20).tickSizeOuter(0).tickPadding(13).tickFormat(d3.format("d"))), 9.2);

minorAxis(d3.axisLeft(yGor), "translate(" + plotL + ",0)", d3.range(0, 4.01, 0.2), 10);
styleAxis(svg.append("g").attr("transform", "translate(" + plotL + ",0)")
  .call(d3.axisLeft(yGor).tickValues(gorTicks).tickSize(18).tickSizeOuter(0).tickPadding(9).tickFormat(d3.format(".2f"))), 9.2);

minorAxis(d3.axisRight(yWct), "translate(" + plotR + ",0)", d3.range(0, 1.001, 0.05), 9);
styleAxis(svg.append("g").attr("transform", "translate(" + plotR + ",0)")
  .call(d3.axisRight(yWct).tickValues(wctTicks).tickSize(16).tickSizeOuter(0).tickPadding(6).tickFormat(d3.format(".2f"))), 9.2);

minorAxis(d3.axisRight(yBhp), "translate(1035,0)", d3.range(0, 7001, 200), 10);
styleAxis(svg.append("g").attr("transform", "translate(1035,0)")
  .call(d3.axisRight(yBhp).tickValues(bhpTicks).tickSize(18).tickSizeOuter(0).tickPadding(7).tickFormat(d3.format("d"))), 9.2);

minorAxis(d3.axisBottom(x), "translate(0," + plotB + ")", quarters, 7);
var xg = svg.append("g").attr("transform", "translate(0," + plotB + ")")
  .call(d3.axisBottom(x).tickValues(yearTicks.map(toDate)).tickSize(15).tickSizeOuter(0).tickPadding(5)
    .tickFormat(d3.utcFormat("%-m/%-d/%y")));
styleAxis(xg, 8.5);
xg.selectAll(".tick text").attr("fill", "#222");

svg.append("text").attr("x", 470).attr("y", 712).attr("text-anchor", "middle")
  .style("font-family", "'DejaVu Sans', sans-serif").style("font-size", "11px").attr("fill", "#222")
  .text("DATE");

// axis titles
function vTitle(cx, cy, len, txt) {
  svg.append("text").attr("class", "title")
    .attr("transform", "translate(" + cx + "," + cy + ") rotate(-90)")
    .attr("text-anchor", "middle").attr("dy", "0.35em")
    .attr("textLength", len).attr("lengthAdjust", "spacingAndGlyphs")
    .text(txt);
}
vTitle(25, 433, 263, "WOPR:CNV-3P,WOPRH:CNV-3P  STB/DAY");
vTitle(117, 442, 284, "WGOR:CNV-3P,WGORH:CNV-3P  MSCF/STB");
vTitle(1021, 443, 298, "WWCT:CNV-3P,WWCTH:CNV-3P  dimensionless");
vTitle(1118, 443, 252, "WBHP:CNV-3P,WBHPH:CNV-3P  PSIA");

// legend
function drawLegend(items, x0, x1, tx, rows) {
  var g = svg.append("g").attr("class", "legend");
  items.forEach(function(item, i) {
    var yy = rows[i];
    if (item.kind == "line") {
      g.append("line").attr("x1", x0).attr("x2", x1).attr("y1", yy).attr("y2", yy)
        .attr("stroke", item.color).attr("stroke-width", 2);
    } else {
      [x0 + 6, x0 + 20].forEach(function(cx) {
        g.append("ellipse").attr("cx", cx).attr("cy", yy).attr("rx", item.kind == "dot" ? 4 : 3.5).attr("ry", 3)
          .attr("fill", item.kind == "dot" ? item.color : "none").attr("stroke", item.color);
      });
    }
    g.append("text").attr("x", tx).attr("y", yy + 4).text(item.name)
      .attr("textLength", 290).attr("lengthAdjust", "spacingAndGlyphs");
  });
}
drawLegend(legendLeft, 55, 90, 91, [34, 48, 62, 76]);
drawLegend(legendRight, 548, 584, 585, [34, 48, 62, 76]);
</script>
</body>
</html>
